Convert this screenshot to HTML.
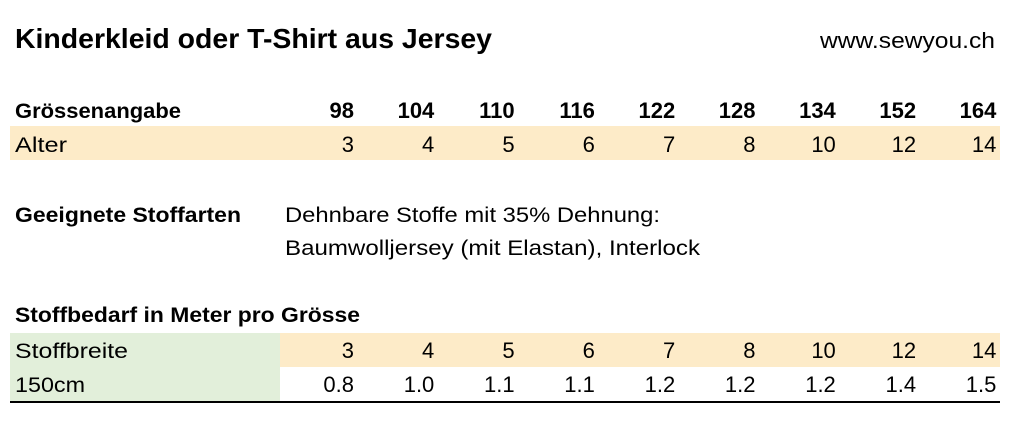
<!DOCTYPE html>
<html><head><meta charset="utf-8"><style>
html,body{margin:0;padding:0;background:#fff;}
svg{display:block;font-family:"Liberation Sans",sans-serif;}
</style></head><body>
<svg id="chart" width="1024" height="433" viewBox="0 0 1024 433">
<rect x="0" y="0" width="1024" height="433" fill="#fff"/>
<text x="15" y="48" font-size="28" font-weight="bold" textLength="477" lengthAdjust="spacingAndGlyphs">Kinderkleid oder T-Shirt aus Jersey</text>
<text x="995" y="48" font-size="22" text-anchor="end" textLength="175" lengthAdjust="spacingAndGlyphs">www.sewyou.ch</text>
<rect x="10" y="126" width="990" height="34" fill="#fdebc8"/>
<text x="15" y="118" font-size="21" font-weight="bold" textLength="166" lengthAdjust="spacingAndGlyphs">Grössenangabe</text>
<text x="15" y="152" font-size="21" textLength="52" lengthAdjust="spacingAndGlyphs">Alter</text>
<text x="15" y="222" font-size="21" font-weight="bold" textLength="226" lengthAdjust="spacingAndGlyphs">Geeignete Stoffarten</text>
<text x="285" y="222" font-size="21" textLength="375" lengthAdjust="spacingAndGlyphs">Dehnbare Stoffe mit 35% Dehnung:</text>
<text x="285" y="255" font-size="21" textLength="415" lengthAdjust="spacingAndGlyphs">Baumwolljersey (mit Elastan), Interlock</text>
<text x="15" y="322" font-size="21" font-weight="bold" textLength="345" lengthAdjust="spacingAndGlyphs">Stoffbedarf in Meter pro Grösse</text>
<rect x="10" y="333" width="270" height="68" fill="#e2efda"/>
<rect x="280" y="333" width="720" height="34" fill="#fdebc8"/>
<text x="15" y="358" font-size="21" textLength="113" lengthAdjust="spacingAndGlyphs">Stoffbreite</text>
<text x="15" y="392" font-size="21" textLength="70" lengthAdjust="spacingAndGlyphs">150cm</text>
<rect x="10" y="401" width="990" height="2" fill="#000"/>
<g id="cells"></g>
</svg>
<script>
const sizes = ["98","104","110","116","122","128","134","152","164"];
const ages = ["3","4","5","6","7","8","10","12","14"];
const meters = [0.8, 1.0, 1.1, 1.1, 1.2, 1.2, 1.2, 1.4, 1.5];
const g = document.getElementById('cells');
const NS = 'http://www.w3.org/2000/svg';
function colX(i){ return 354 + i * 80.3; }
function addText(x, y, txt, bold, name){
  const t = document.createElementNS(NS, 'text');
  t.setAttribute('x', x);
  t.setAttribute('y', y);
  t.setAttribute('font-size', '22');
  t.setAttribute('text-anchor', 'end');
  if (bold) t.setAttribute('font-weight', 'bold');
  t.textContent = txt;
  
  
  g.appendChild(t);
}
sizes.forEach((s, i) => addText(colX(i), 118, s, true, 'size-' + s));
ages.forEach((a, i) => addText(colX(i), 152, a, false, 'age-' + sizes[i]));
ages.forEach((a, i) => addText(colX(i), 358, a, false, 'age2-' + sizes[i]));
meters.forEach((m, i) => addText(colX(i), 392, m.toFixed(1), false, 'meters-' + sizes[i]));
</script>
</body></html>
